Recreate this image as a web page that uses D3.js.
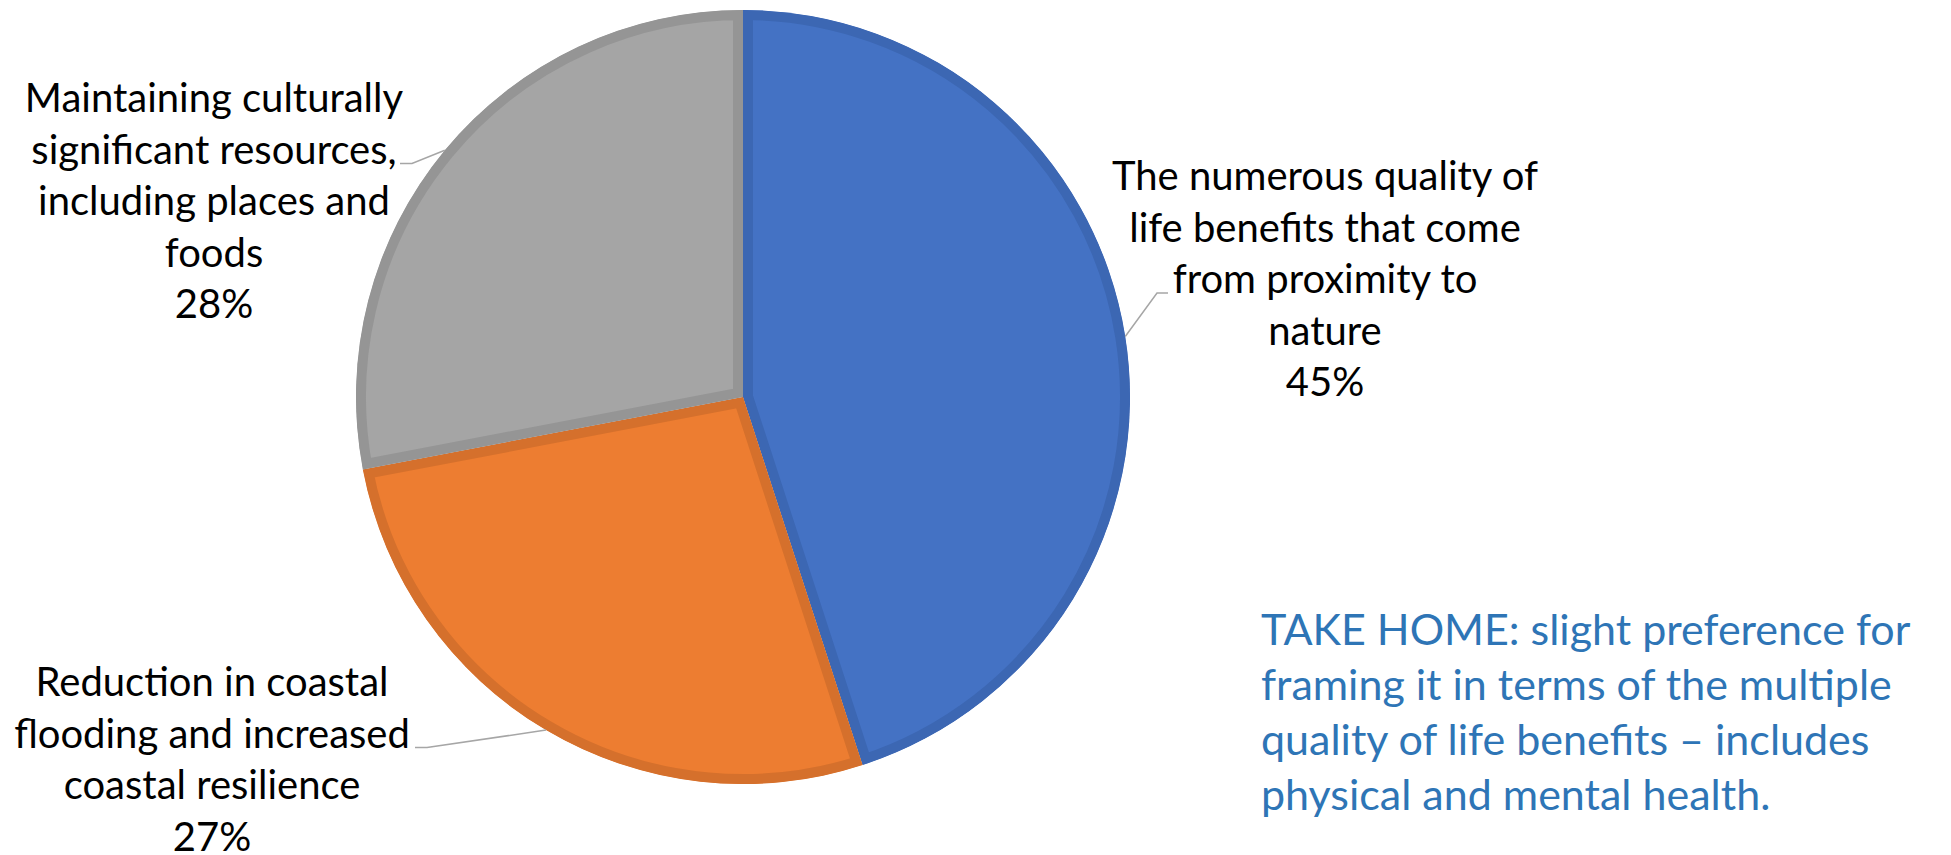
<!DOCTYPE html>
<html>
<head>
<meta charset="utf-8">
<script src="https://cdn.jsdelivr.net/npm/d3@7"></script>
<style>
  html, body { margin: 0; padding: 0; background: #ffffff; }
  svg { display: block; }
</style>
</head>
<body>
<svg id="chart" width="1951" height="855"></svg>
<script>
// Survey: preferred framing of nature-based coastal benefits
const categories = [
  "The numerous quality of life benefits that come from proximity to nature",
  "Reduction in coastal flooding and increased coastal resilience",
  "Maintaining culturally significant resources, including places and foods"
];
const shares = [45, 27, 28];
const labelLines = [
  ["The numerous quality of", "life benefits that come", "from proximity to", "nature"],
  ["Reduction in coastal", "flooding and increased", "coastal resilience"],
  ["Maintaining culturally", "significant resources,", "including places and", "foods"]
];
const fillColors = ["#4472C4", "#ED7D31", "#A5A5A5"];
const borderColors = ["#3C67B3", "#D5702C", "#959595"];
const takeHome = [
  "TAKE HOME: slight preference for",
  "framing it in terms of the multiple",
  "quality of life benefits \u2013 includes",
  "physical and mental health."
];

// Layout
const W = 1951, H = 855;
const cx = 743, cy = 397, R = 387;
const border = 10;
const labelFont = "Lato, 'Open Sans', sans-serif";
const labelSize = 40;
const lineGap = 51.5;
// label block: centre x, first baseline, which line the leader meets, leader hook/end x
const labelLayout = [
  { x: 1325, y: 190, hookLine: 2, hookX: 1157, endX: 1168 },
  { x: 212,  y: 696, hookLine: 1, hookX: 427,  endX: 415 },
  { x: 214,  y: 112, hookLine: 1, hookX: 412,  endX: 400 }
];

const svg = d3.select("#chart");

const pie = d3.pie().sort(null).value(d => d)
  .startAngle(0).endAngle(2 * Math.PI);
const arcs = pie(shares);
const arc = d3.arc().innerRadius(0).outerRadius(R);

const g = svg.append("g").attr("transform", `translate(${cx},${cy})`);
const defs = svg.append("defs");

arcs.forEach((a, i) => {
  defs.append("clipPath").attr("id", "slice-clip-" + i)
    .append("path").attr("d", arc(a));
});

// slices with an inner border in a darker shade
g.selectAll("path.slice")
  .data(arcs)
  .join("path")
  .attr("class", "slice")
  .attr("d", arc)
  .attr("fill", (d, i) => fillColors[i])
  .attr("stroke", (d, i) => borderColors[i])
  .attr("stroke-width", border * 2)
  .attr("stroke-linejoin", "miter")
  .attr("clip-path", (d, i) => `url(#slice-clip-${i})`);

// leader lines from slice mid-angle on the rim to the label
arcs.forEach((a, i) => {
  const mid = (a.startAngle + a.endAngle) / 2;
  const sx = cx + R * Math.sin(mid);
  const sy = cy - R * Math.cos(mid);
  const L = labelLayout[i];
  const hy = L.y + L.hookLine * lineGap;
  svg.append("path")
    .attr("d", d3.line()([[sx, sy], [L.hookX, hy], [L.endX, hy]]))
    .attr("fill", "none")
    .attr("stroke", "#A6A6A6")
    .attr("stroke-width", 1.5);
});

// data labels: category name plus percentage
arcs.forEach((a, i) => {
  const L = labelLayout[i];
  const lines = labelLines[i].concat([d3.format(".0f")(a.data) + "%"]);
  const t = svg.append("text")
    .attr("text-anchor", "middle")
    .attr("font-family", labelFont)
    .attr("font-size", labelSize)
    .attr("fill", "#000000");
  lines.forEach((s, k) => {
    t.append("tspan").attr("x", L.x).attr("y", L.y + k * lineGap).text(s);
  });
});

// takeaway note
const note = svg.append("text")
  .attr("font-family", labelFont)
  .attr("font-size", 43)
  .attr("fill", "#2E75B6");
takeHome.forEach((s, k) => {
  note.append("tspan").attr("x", 1261).attr("y", 645 + k * 55).text(s);
});
</script>
</body>
</html>
